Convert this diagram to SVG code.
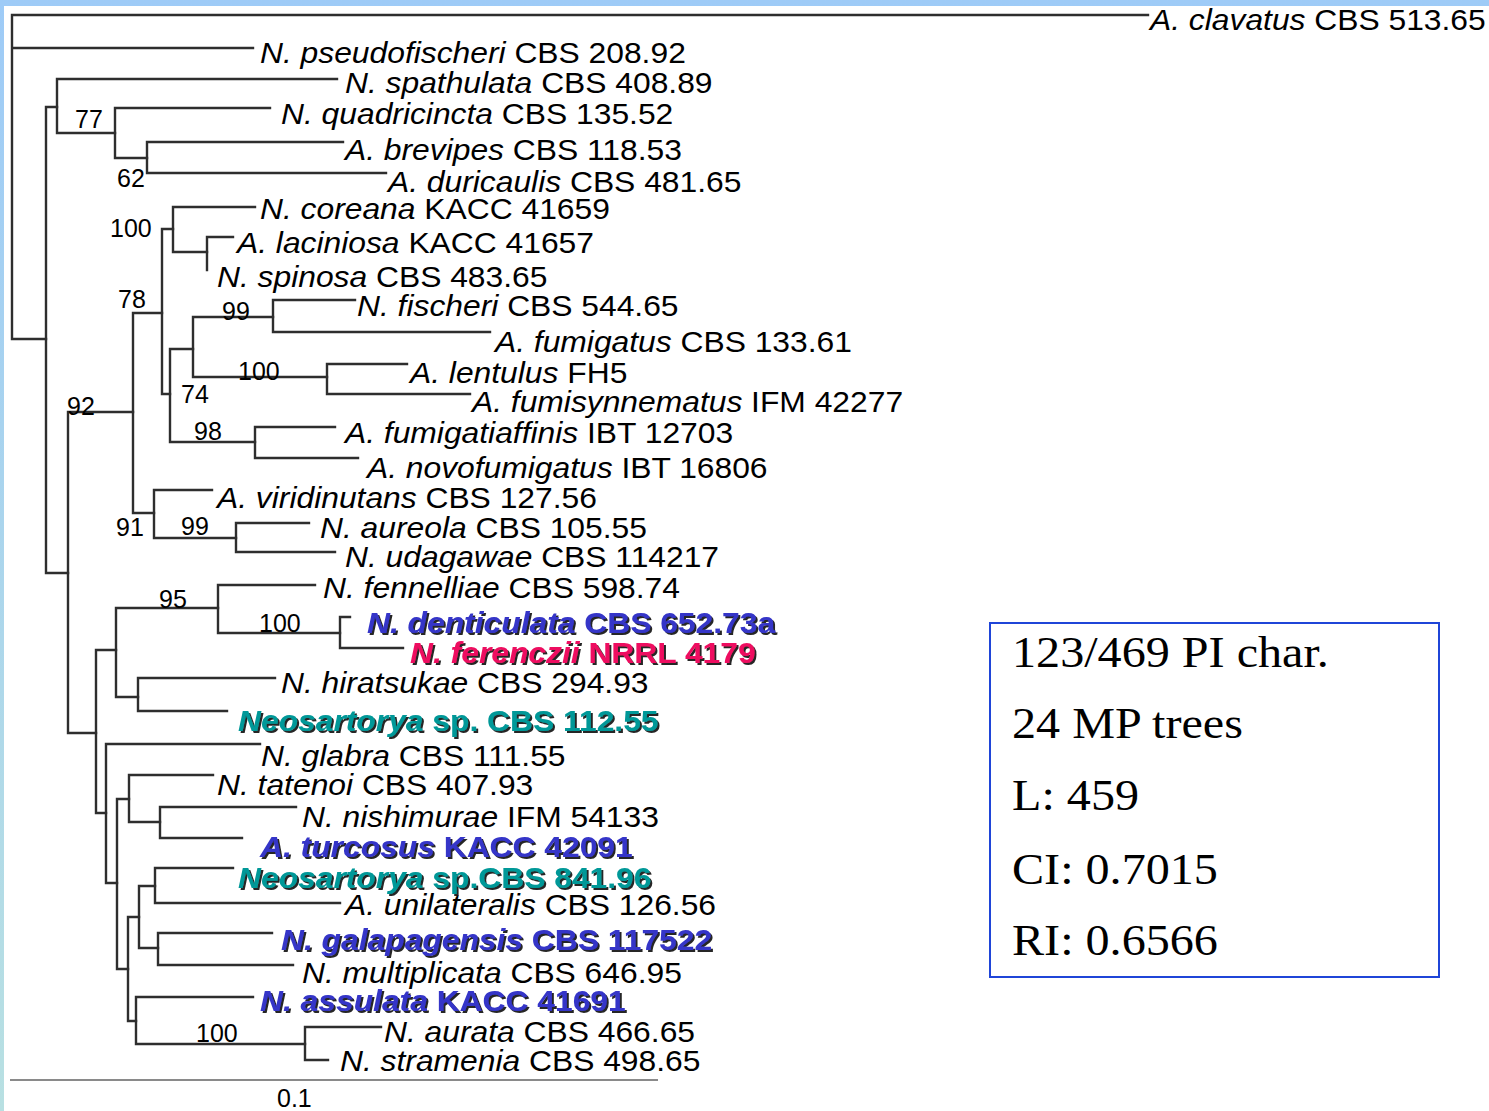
<svg xmlns="http://www.w3.org/2000/svg" width="1489" height="1111" viewBox="0 0 1489 1111">
<defs>
<linearGradient id="bg" x1="0" y1="0" x2="0" y2="1">
<stop offset="0" stop-color="#9ecbf7"/>
<stop offset="1" stop-color="#b8e0e2"/>
</linearGradient>
<filter id="sh" x="-5%" y="-30%" width="110%" height="160%">
<feOffset in="SourceAlpha" dx="2" dy="2" result="o"/>
<feFlood flood-color="#111" flood-opacity="0.9"/>
<feComposite in2="o" operator="in" result="s"/>
<feMerge><feMergeNode in="s"/><feMergeNode in="SourceGraphic"/></feMerge>
</filter>
</defs>
<style>
.br{fill:none;stroke:#2e2e2e;stroke-width:2.4;stroke-linecap:square}
.lb{font-family:"Liberation Sans",Arial,sans-serif;font-size:29.5px;fill:#000}
.i{font-style:italic}
.bold{font-weight:bold;filter:url(#sh)}
.blue{fill:#3434c8}
.teal{fill:#009898}
.red{fill:#ee1060}
.sv{font-family:"Liberation Sans",Arial,sans-serif;font-size:25px;fill:#000}
.st{font-family:"Liberation Serif","Times New Roman",serif;font-size:45px;fill:#000}
</style>
<rect x="0" y="0" width="1489" height="1111" fill="url(#bg)"/>
<rect x="4" y="6" width="1485" height="1105" fill="#fff"/>

<g id="connectors">
<path class="br" d="M1148,15H12V339H46M12,48H253"/>
<path class="br" d="M57,107H46V573H68"/>
<path class="br" d="M337,79H57V133H115"/>
<path class="br" d="M270,108H115V158H147"/>
<path class="br" d="M343,142H147V173H386"/>
<path class="br" d="M133,412H68V733H96"/>
<path class="br" d="M162,313H133V513H154"/>
<path class="br" d="M173,229H162V394H170"/>
<path class="br" d="M255,207H173V252H207"/>
<path class="br" d="M233,237H207V270"/>
<path class="br" d="M193,349H170V442H255"/>
<path class="br" d="M273,317H193V377H327"/>
<path class="br" d="M355,300H273V332H490"/>
<path class="br" d="M407,364H327V394H470"/>
<path class="br" d="M335,427H255V458H358"/>
<path class="br" d="M212,490H154V538H236"/>
<path class="br" d="M309,523H236V552H335"/>
<path class="br" d="M116,650H96V813H106"/>
<path class="br" d="M218,608H116V697H138"/>
<path class="br" d="M315,585H218V633H340"/>
<path class="br" d="M350,617H340V648H403"/>
<path class="br" d="M275,678H138V711H227"/>
<path class="br" d="M260,744H106V883H117"/>
<path class="br" d="M129,799H117V969H128"/>
<path class="br" d="M213,775H129V822H160"/>
<path class="br" d="M296,807H160V838H242"/>
<path class="br" d="M139,917H128V1021H136"/>
<path class="br" d="M155,886H139V948H158"/>
<path class="br" d="M233,868H155V903H340"/>
<path class="br" d="M272,933H158V965H293"/>
<path class="br" d="M253,997H136V1044H305"/>
<path class="br" d="M381,1027H305V1060H328"/>
<path d="M10,1080H658" stroke="#8a8a8a" stroke-width="2" fill="none"/>
</g>

<g id="support">
<text class="sv" x="75" y="128">77</text>
<text class="sv" x="117" y="187">62</text>
<text class="sv" x="110" y="237">100</text>
<text class="sv" x="118" y="308">78</text>
<text class="sv" x="222" y="320">99</text>
<text class="sv" x="238" y="380">100</text>
<text class="sv" x="181" y="403">74</text>
<text class="sv" x="67" y="415">92</text>
<text class="sv" x="194" y="440">98</text>
<text class="sv" x="116" y="536">91</text>
<text class="sv" x="181" y="535">99</text>
<text class="sv" x="159" y="608">95</text>
<text class="sv" x="259" y="632">100</text>
<text class="sv" x="196" y="1042">100</text>
<text class="sv" x="277" y="1107">0.1</text>
</g>

<g id="n-clavatus"><text class="lb" transform="matrix(1.078,0,0,1,1150,30)"><tspan class="i">A. clavatus</tspan> CBS 513.65</text></g>
<g id="n-pseudofischeri"><text class="lb" transform="matrix(1.078,0,0,1,260,63)"><tspan class="i">N. pseudofischeri</tspan> CBS 208.92</text></g>
<g id="n-spathulata"><text class="lb" transform="matrix(1.078,0,0,1,345,93)"><tspan class="i">N. spathulata</tspan> CBS 408.89</text></g>
<g id="n-quadricincta"><text class="lb" transform="matrix(1.078,0,0,1,281,124)"><tspan class="i">N. quadricincta</tspan> CBS 135.52</text></g>
<g id="n-brevipes"><text class="lb" transform="matrix(1.078,0,0,1,345,160)"><tspan class="i">A. brevipes</tspan> CBS 118.53</text></g>
<g id="n-duricaulis"><text class="lb" transform="matrix(1.078,0,0,1,388,192)"><tspan class="i">A. duricaulis</tspan> CBS 481.65</text></g>
<g id="n-coreana"><text class="lb" transform="matrix(1.078,0,0,1,260,219)"><tspan class="i">N. coreana</tspan> KACC 41659</text></g>
<g id="n-laciniosa"><text class="lb" transform="matrix(1.078,0,0,1,237,253)"><tspan class="i">A. laciniosa</tspan> KACC 41657</text></g>
<g id="n-spinosa"><text class="lb" transform="matrix(1.078,0,0,1,217,287)"><tspan class="i">N. spinosa</tspan> CBS 483.65</text></g>
<g id="n-fischeri"><text class="lb" transform="matrix(1.078,0,0,1,357,316)"><tspan class="i">N. fischeri</tspan> CBS 544.65</text></g>
<g id="n-fumigatus"><text class="lb" transform="matrix(1.078,0,0,1,495,352)"><tspan class="i">A. fumigatus</tspan> CBS 133.61</text></g>
<g id="n-lentulus"><text class="lb" transform="matrix(1.078,0,0,1,410,383)"><tspan class="i">A. lentulus</tspan> FH5</text></g>
<g id="n-fumisynnematus"><text class="lb" transform="matrix(1.078,0,0,1,472,412)"><tspan class="i">A. fumisynnematus</tspan> IFM 42277</text></g>
<g id="n-fumigatiaffinis"><text class="lb" transform="matrix(1.078,0,0,1,345,443)"><tspan class="i">A. fumigatiaffinis</tspan> IBT 12703</text></g>
<g id="n-novofumigatus"><text class="lb" transform="matrix(1.078,0,0,1,367,478)"><tspan class="i">A. novofumigatus</tspan> IBT 16806</text></g>
<g id="n-viridinutans"><text class="lb" transform="matrix(1.078,0,0,1,217,508)"><tspan class="i">A. viridinutans</tspan> CBS 127.56</text></g>
<g id="n-aureola"><text class="lb" transform="matrix(1.078,0,0,1,320,538)"><tspan class="i">N. aureola</tspan> CBS 105.55</text></g>
<g id="n-udagawae"><text class="lb" transform="matrix(1.078,0,0,1,345,567)"><tspan class="i">N. udagawae</tspan> CBS 114217</text></g>
<g id="n-fennelliae"><text class="lb" transform="matrix(1.078,0,0,1,323,598)"><tspan class="i">N. fennelliae</tspan> CBS 598.74</text></g>
<g id="n-denticulata"><text class="lb bold blue" transform="matrix(1.078,0,0,1,367,633)"><tspan class="i">N. denticulata</tspan> CBS 652.73a</text></g>
<g id="n-ferenczii"><text class="lb bold red" transform="matrix(1.078,0,0,1,410,663)"><tspan class="i">N. ferenczii</tspan> NRRL 4179</text></g>
<g id="n-hiratsukae"><text class="lb" transform="matrix(1.078,0,0,1,281,693)"><tspan class="i">N. hiratsukae</tspan> CBS 294.93</text></g>
<g id="n-neo112"><text class="lb bold teal" transform="matrix(1.078,0,0,1,238,731)"><tspan class="i">Neosartorya</tspan> sp. CBS 112.55</text></g>
<g id="n-glabra"><text class="lb" transform="matrix(1.078,0,0,1,261,766)"><tspan class="i">N. glabra</tspan> CBS 111.55</text></g>
<g id="n-tatenoi"><text class="lb" transform="matrix(1.078,0,0,1,217,795)"><tspan class="i">N. tatenoi</tspan> CBS 407.93</text></g>
<g id="n-nishimurae"><text class="lb" transform="matrix(1.078,0,0,1,302,827)"><tspan class="i">N. nishimurae</tspan> IFM 54133</text></g>
<g id="n-turcosus"><text class="lb bold blue" transform="matrix(1.078,0,0,1,260,857)"><tspan class="i">A. turcosus</tspan> KACC 42091</text></g>
<g id="n-neo841"><text class="lb bold teal" transform="matrix(1.078,0,0,1,238,888)"><tspan class="i">Neosartorya</tspan> sp.CBS 841.96</text></g>
<g id="n-unilateralis"><text class="lb" transform="matrix(1.078,0,0,1,345,915)"><tspan class="i">A. unilateralis</tspan> CBS 126.56</text></g>
<g id="n-galapagensis"><text class="lb bold blue" transform="matrix(1.078,0,0,1,281,950)"><tspan class="i">N. galapagensis</tspan> CBS 117522</text></g>
<g id="n-multiplicata"><text class="lb" transform="matrix(1.078,0,0,1,302,983)"><tspan class="i">N. multiplicata</tspan> CBS 646.95</text></g>
<g id="n-assulata"><text class="lb bold blue" transform="matrix(1.078,0,0,1,260,1011)"><tspan class="i">N. assulata</tspan> KACC 41691</text></g>
<g id="n-aurata"><text class="lb" transform="matrix(1.078,0,0,1,384,1042)"><tspan class="i">N. aurata</tspan> CBS 466.65</text></g>
<g id="n-stramenia"><text class="lb" transform="matrix(1.078,0,0,1,340,1071)"><tspan class="i">N. stramenia</tspan> CBS 498.65</text></g>

<g id="stats">
<rect x="990" y="623" width="449" height="354" fill="#fff" stroke="#1f45d8" stroke-width="2"/>
<text class="st" transform="matrix(1.07,0,0,1,1012,667)">123/469 PI char.</text>
<text class="st" transform="matrix(1.07,0,0,1,1012,738)">24 MP trees</text>
<text class="st" transform="matrix(1.07,0,0,1,1012,810)">L: 459</text>
<text class="st" transform="matrix(1.07,0,0,1,1012,884)">CI: 0.7015</text>
<text class="st" transform="matrix(1.07,0,0,1,1012,955)">RI: 0.6566</text>
</g>
</svg>
